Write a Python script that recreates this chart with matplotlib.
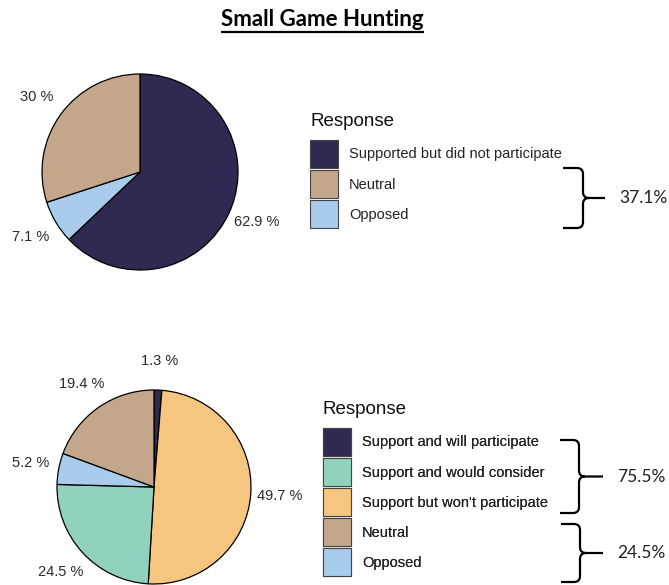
import matplotlib
matplotlib.use("Agg")
import matplotlib.pyplot as plt
from matplotlib.path import Path
from matplotlib.patches import PathPatch

W, H = 669, 585

title = "Small Game Hunting"
legend_title = "Response"

top_labels = ["Supported but did not participate", "Neutral", "Opposed"]
top_values = [62.9, 30, 7.1]
top_colors = ["#2e2a52", "#c4a78b", "#a9cbec"]
top_pie_order = [0, 2, 1]  # clockwise from 12 o'clock

bottom_labels = [
    "Support and will participate",
    "Support and would consider",
    "Support but won't participate",
    "Neutral",
    "Opposed",
]
bottom_values = [1.3, 24.5, 49.7, 19.4, 5.2]
bottom_colors = ["#2e2a52", "#90d2bd", "#f6c57f", "#c4a78b", "#a9cbec"]
bottom_pie_order = [0, 2, 1, 4, 3]

top_groups = ["37.1%"]
bottom_groups = ["75.5%", "24.5%"]

LABEL_FONT = ["Liberation Sans", "DejaVu Sans"]
NOTE_FONT = ["Lato", "DejaVu Sans"]


def py(y):
    # pixel row (from top) -> data y (from bottom)
    return H - y


def draw_pie(ax, values, colors, order, center, radius):
    vals = [values[i] for i in order]
    cols = [colors[i] for i in order]
    texts = ["%g %%" % v for v in vals]
    wedges, labels = ax.pie(
        vals,
        colors=cols,
        labels=texts,
        labeldistance=1.3,
        startangle=90,
        counterclock=False,
        center=(center[0], py(center[1])),
        radius=radius,
        wedgeprops=dict(edgecolor="black", linewidth=0.9),
        textprops=dict(fontsize=10.5, color="#2a2a2a", family=LABEL_FONT),
    )
    for t in labels:
        t.set_ha("center")
        t.set_va("center")
    # return wedges back in legend order
    handles = [None] * len(values)
    for w, i in zip(wedges, order):
        handles[i] = w
    return handles


def draw_legend(ax, handles, labels, x, y_title, y_boxes):
    ax.text(x, py(y_title), legend_title, ha="left", va="center",
            fontsize=13.5, color="#111111", family=LABEL_FONT)
    leg = ax.legend(
        handles,
        labels,
        loc="upper left",
        bbox_to_anchor=(x, py(y_boxes)),
        bbox_transform=ax.transData,
        frameon=False,
        borderpad=0,
        borderaxespad=0,
        handlelength=1.92,
        handleheight=2.58,
        handletextpad=0.75,
        labelspacing=0.14,
        prop=dict(family=LABEL_FONT, size=10.5),
    )
    for t in leg.get_texts():
        t.set_color("#222222")
    for h in leg.legend_handles:
        h.set_edgecolor("#444444")
        h.set_linewidth(0.8)
    ax.add_artist(leg)
    return leg


def draw_brace(ax, x0, xv, ytop, ybot, xend, text, r=6):
    ym = (ytop + ybot) / 2
    verts = [
        (x0, ytop), (xv - r, ytop), (xv, ytop), (xv, ytop + r),
        (xv, ym - r), (xv, ym), (xv + r, ym), (xend, ym),
        (xv + r, ym), (xv, ym), (xv, ym + r),
        (xv, ybot - r), (xv, ybot), (xv - r, ybot), (x0, ybot),
    ]
    codes = [
        Path.MOVETO, Path.LINETO, Path.CURVE3, Path.CURVE3,
        Path.LINETO, Path.CURVE3, Path.CURVE3, Path.LINETO,
        Path.MOVETO, Path.CURVE3, Path.CURVE3,
        Path.LINETO, Path.CURVE3, Path.CURVE3, Path.LINETO,
    ]
    verts = [(vx, py(vy)) for vx, vy in verts]
    ax.add_patch(PathPatch(Path(verts, codes), fill=False, edgecolor="black",
                           linewidth=1.6, capstyle="butt", joinstyle="round"))
    ax.text(xend + 14, py(ym), text, ha="left", va="center", fontsize=12.5,
            color="#222222", family=NOTE_FONT)


fig = plt.figure(figsize=(W / 100, H / 100), dpi=100)
ax = fig.add_axes([0, 0, 1, 1])

top_handles = draw_pie(ax, top_values, top_colors, top_pie_order, (140, 172), 98)
bottom_handles = draw_pie(ax, bottom_values, bottom_colors, bottom_pie_order, (154, 487), 97)

ax.set_xlim(0, W)
ax.set_ylim(0, H)
ax.set_aspect("equal")
ax.axis("off")

draw_legend(ax, top_handles, top_labels, 310, 122, 140)
draw_legend(ax, bottom_handles, bottom_labels, 323, 410, 428)

draw_brace(ax, 563, 583, 168, 228, 605, top_groups[0])
draw_brace(ax, 560, 579, 440, 513, 603, bottom_groups[0])
draw_brace(ax, 561, 580, 524, 582, 603, bottom_groups[1])

# bold underlined title
t = ax.text(322.5, py(20), title, ha="center", va="center", fontsize=16,
            fontweight="bold", color="black", family=NOTE_FONT)
fig.canvas.draw()
bb = t.get_window_extent().transformed(ax.transData.inverted())
ax.plot([bb.x0, bb.x1], [py(31.5), py(31.5)], color="black", linewidth=1.6,
        solid_capstyle="butt")

fig.savefig("out.png", dpi=100)
